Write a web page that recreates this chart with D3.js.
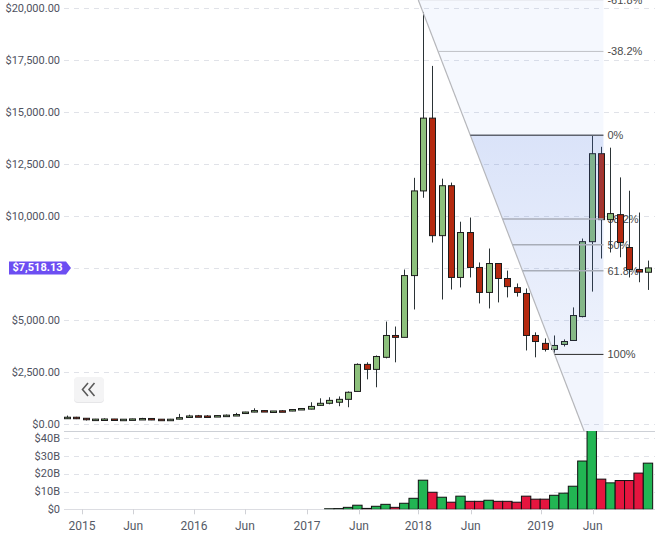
<!DOCTYPE html>
<html lang="en">
<head>
<meta charset="UTF-8">
<title>BTC monthly candles</title>
<script src="https://d3js.org/d3.v7.min.js"></script>
<style>
  body { margin: 0; background: #fff; }
  svg { display: block; font-family: Roboto, "Open Sans", Arial, sans-serif; }
</style>
</head>
<body>
<svg width="666" height="541"></svg>
<script>
// monthly candles, index 0 = first bar on the left
const open  = [280, 340, 290, 220, 240, 255, 235, 240, 260, 280, 245, 230, 250, 340, 410, 400, 380, 410, 440, 530, 590, 660, 600, 650, 640, 710,
               730, 910, 1010, 1060, 1200, 1580, 2880, 2640, 3220, 4270, 4180, 7150, 11220, 14720, 9070, 11470, 7060, 9220, 7540, 6340, 7730, 7010, 6570,
               6290, 4270, 3890, 3600, 3840, 4030, 5180, 8780, 13010, 9840, 10080, 8500, 7440, 7310];
const high  = [420, 360, 300, 260, 290, 260, 250, 270, 310, 285, 250, 260, 500, 460, 450, 440, 440, 470, 550, 600, 770, 680, 640, 680, 720, 780,
               1060, 1250, 1300, 1340, 1580, 2930, 2980, 3310, 4940, 4700, 7440, 11850, 19810, 17230, 11810, 11620, 9740, 9940, 7780, 8450, 7730, 7390, 6770,
               6530, 4420, 4130, 4270, 4080, 5620, 8930, 13870, 13340, 13300, 11870, 11230, 10180, 7870];
const low   = [260, 250, 180, 210, 230, 215, 225, 220, 250, 200, 225, 225, 240, 330, 360, 370, 370, 400, 430, 520, 580, 600, 560, 600, 630, 700,
               720, 880, 960, 870, 820, 1580, 2160, 1780, 3170, 2980, 4180, 5520, 10890, 8740, 6000, 6480, 6580, 7060, 5810, 5570, 5860, 6100, 6140,
               3550, 3220, 3500, 3410, 3740, 4030, 5140, 6380, 7970, 8260, 8030, 7060, 6830, 6460];
const close = [340, 290, 230, 250, 255, 235, 245, 260, 280, 240, 230, 245, 320, 400, 380, 380, 420, 440, 470, 590, 660, 610, 640, 610, 710, 760,
               860, 1010, 1150, 1200, 1540, 2880, 2640, 3260, 4270, 4180, 7150, 11220, 14720, 9070, 11470, 7060, 9220, 7540, 6340, 7730, 7010, 6620, 6340,
               4270, 3980, 3600, 3790, 3980, 5230, 8780, 13010, 9840, 10130, 8740, 7440, 7320, 7518.13];
// volume in billions of dollars (none shown for the early bars)
const volume = [null, null, null, null, null, null, null, null, null, null, null, null, null, null,
                null, null, null, null, null, null, null, null, null, null, null, null, null, null,
                0.3, 0.4, 1.1, 2.3, 0.5, 1.7, 2.8, 1.1, 3.4, 6.2, 16.4, 9.6, 6.8, 4.0, 7.4, 4.5, 4.5, 5.1, 4.5, 4.5, 4.0,
                7.4, 5.7, 5.7, 7.9, 9.1, 13.0, 27.2, 44.5, 17.0, 14.9, 16.2, 16.2, 20.4, 26.0];

const priceTicks = d3.range(0, 20001, 2500);
const volumeTicks = [0, 10, 20, 30, 40];
const xTickLabels = ["2015", "Jun", "2016", "Jun", "2017", "Jun", "2018", "Jun", "2019", "Jun"];
const xTickAt = [1.63, 7.07, 13.57, 19.0, 25.63, 31.17, 37.5, 43.1, 50.55, 56.1];
const fibRatios = [-0.618, -0.382, 0, 0.382, 0.5, 0.618, 1];
const fibLabels = ["-61.8%", "-38.2%", "0%", "38.2%", "50%", "61.8%", "100%"];
const fibHigh = 13900, fibLow = 3360;
const lastPrice = 7518.13;

const svg = d3.select("svg");
const left = 64, right = 655, paneSplit = 431;

const x = d3.scaleLinear().domain([-0.3, 62.75]).range([left, right]);
const y = d3.scaleLinear().domain([0, 20000]).range([424.3, 8.3]);
const yv = d3.scaleLinear().domain([0, 40]).range([509.3, 438.3]);

const idx = d3.range(open.length);
const up = i => close[i] >= open[i];

const defs = svg.append("defs");
defs.append("clipPath").attr("id", "priceClip")
  .append("rect").attr("x", left).attr("y", 0).attr("width", right - left).attr("height", paneSplit);
defs.append("clipPath").attr("id", "volClip")
  .append("rect").attr("x", left).attr("y", paneSplit).attr("width", right - left).attr("height", yv(0) - paneSplit);
const grad = defs.append("linearGradient").attr("id", "fibGrad")
  .attr("x1", 0).attr("y1", 0).attr("x2", 0).attr("y2", 1);
grad.append("stop").attr("offset", "0%").attr("stop-color", "rgb(70,115,225)").attr("stop-opacity", 0.2);
grad.append("stop").attr("offset", "100%").attr("stop-color", "rgb(70,115,225)").attr("stop-opacity", 0.09);

// grid lines
svg.append("g").selectAll("line").data(priceTicks).join("line")
  .attr("x1", left).attr("x2", right)
  .attr("y1", d => Math.round(y(d)) + 0.5).attr("y2", d => Math.round(y(d)) + 0.5)
  .attr("stroke", "#e0e2e8").attr("stroke-dasharray", "5,5");
svg.append("g").selectAll("line").data(volumeTicks.filter(d => d > 0)).join("line")
  .attr("x1", left).attr("x2", right)
  .attr("y1", d => Math.round(yv(d)) + 0.5).attr("y2", d => Math.round(yv(d)) + 0.5)
  .attr("stroke", "#e0e2e8").attr("stroke-dasharray", "5,5");

svg.append("line").attr("x1", left).attr("x2", right).attr("y1", paneSplit + 0.5).attr("y2", paneSplit + 0.5)
  .attr("stroke", "#cdd0d6");
svg.append("line").attr("x1", left).attr("x2", right).attr("y1", Math.round(yv(0)) + 0.5).attr("y2", Math.round(yv(0)) + 0.5)
  .attr("stroke", "#dcdde2");

// fibonacci geometry: trend line from the top to the low, levels from low to high
const loIdx = 52, topIdx = 38, edgeIdx = 57.25;
const ax = x(topIdx), ay = y(high[topIdx]), bx = x(loIdx), by = y(low[loIdx]);
const xAt = py => ax + (py - ay) * (bx - ax) / (by - ay);
const edge = x(edgeIdx);
const levelY = fibRatios.map(r => y(fibHigh - r * (fibHigh - fibLow)));

// level labels sit under the candles
svg.append("g").selectAll("text").data(fibLabels).join("text")
  .attr("x", edge + 4).attr("y", (d, i) => levelY[i])
  .attr("dominant-baseline", "central")
  .attr("font-family", "'Liberation Sans', Arial, sans-serif")
  .attr("font-size", 11).attr("fill", "#4a4a4a")
  .text(d => d);

// candles
const candles = svg.append("g").attr("clip-path", "url(#priceClip)");
candles.selectAll("line").data(idx).join("line")
  .attr("x1", i => Math.round(x(i)) + 0.5).attr("x2", i => Math.round(x(i)) + 0.5)
  .attr("y1", i => y(high[i])).attr("y2", i => y(low[i]))
  .attr("stroke", "#2b3336");
candles.selectAll("rect").data(idx).join("rect")
  .attr("x", i => Math.round(x(i)) - 2.5).attr("width", 6)
  .attr("y", i => y(Math.max(open[i], close[i])))
  .attr("height", i => Math.max(1.5, Math.abs(y(open[i]) - y(close[i]))))
  .attr("fill", i => up(i) ? "#8dc07c" : "#b4290f")
  .attr("stroke", "#1c1c1c");

// volume bars
svg.append("g").attr("clip-path", "url(#volClip)")
  .selectAll("rect").data(idx.filter(i => volume[i] != null)).join("rect")
  .attr("x", i => x(i - 0.5)).attr("width", i => x(i + 0.5) - x(i - 0.5))
  .attr("y", i => yv(volume[i])).attr("height", i => yv(0) - yv(volume[i]))
  .attr("fill", i => up(i) ? "#22b553" : "#e5153f")
  .attr("stroke", "#111");

// fibonacci overlay
const fib = svg.append("g").attr("clip-path", "url(#priceClip)");
const y0 = levelY[2], y100 = levelY[6];
const band = (ya, yb) => [[xAt(ya), ya], [edge, ya], [edge, yb], [xAt(yb), yb]];
fib.append("polygon").attr("points", band(0, y0).join(" ")).attr("fill", "rgba(90,130,235,0.06)");
fib.append("polygon").attr("points", band(y0, y100).join(" ")).attr("fill", "url(#fibGrad)");
fib.append("polygon").attr("points", band(y100, paneSplit).join(" ")).attr("fill", "rgba(90,130,235,0.08)");
fib.append("line")
  .attr("x1", xAt(0)).attr("y1", 0).attr("x2", xAt(paneSplit)).attr("y2", paneSplit)
  .attr("stroke", "#b5b6ba").attr("stroke-width", 1.2);

const levelStroke = ["#bfc1c6", "#bfc1c6", "#5e636e", "#a8adb8", "#a8adb8", "#a8adb8", "#2b2b2b"];
const levelWidth = [1, 1, 1.5, 1.5, 1.5, 1.5, 1];
fib.selectAll("line.level").data(fibRatios).join("line").attr("class", "level")
  .attr("x1", (d, i) => xAt(levelY[i])).attr("x2", edge)
  .attr("y1", (d, i) => levelY[i]).attr("y2", (d, i) => levelY[i])
  .attr("stroke", (d, i) => levelStroke[i]).attr("stroke-width", (d, i) => levelWidth[i]);

// y axis labels (the one under the price tag is hidden)
const fmtPrice = d3.format(",.2f");
const ty = y(lastPrice);
svg.append("g").selectAll("text").data(priceTicks.filter(d => Math.abs(y(d) - ty) > 8)).join("text")
  .attr("x", 60).attr("y", d => y(d))
  .attr("text-anchor", "end").attr("dominant-baseline", "central")
  .attr("font-size", 11).attr("fill", "#4f5260")
  .text(d => "$" + fmtPrice(d));
svg.append("g").selectAll("text").data(volumeTicks).join("text")
  .attr("x", 60).attr("y", d => yv(d))
  .attr("text-anchor", "end").attr("dominant-baseline", "central")
  .attr("font-size", 11).attr("fill", "#4f5260")
  .text(d => d === 0 ? "$0" : "$" + d + "B");

// x axis
svg.append("g").selectAll("line").data(xTickAt).join("line")
  .attr("x1", d => Math.round(x(d)) + 0.5).attr("x2", d => Math.round(x(d)) + 0.5)
  .attr("y1", yv(0)).attr("y2", yv(0) + 5)
  .attr("stroke", "#d0d1d6");
svg.append("g").selectAll("text").data(xTickLabels).join("text")
  .attr("x", (d, i) => x(xTickAt[i])).attr("y", 526)
  .attr("text-anchor", "middle").attr("dominant-baseline", "central")
  .attr("font-size", 12).attr("fill", "#555a66")
  .text(d => d);

// last price tag
svg.append("path")
  .attr("d", `M9,${ty - 6.5} h57 l5,6.5 l-5,6.5 h-57 z`)
  .attr("fill", "#6c4ef2");
svg.append("text")
  .attr("x", 37.5).attr("y", ty)
  .attr("text-anchor", "middle").attr("dominant-baseline", "central")
  .attr("font-size", 11).attr("font-weight", "bold").attr("fill", "#fff")
  .text("$" + fmtPrice(lastPrice));

// scroll button
svg.append("rect").attr("x", 74).attr("y", 378).attr("width", 30).attr("height", 25).attr("rx", 4)
  .attr("fill", "#e6e6e8");
svg.append("rect").attr("x", 74).attr("y", 377).attr("width", 30).attr("height", 25).attr("rx", 4)
  .attr("fill", "#f4f4f5");
svg.append("path")
  .attr("d", "M88,383 L82.5,389.5 L88,396 M94.5,383 L89,389.5 L94.5,396")
  .attr("fill", "none").attr("stroke", "#5a5a5a").attr("stroke-width", 1.6);
</script>
</body>
</html>
